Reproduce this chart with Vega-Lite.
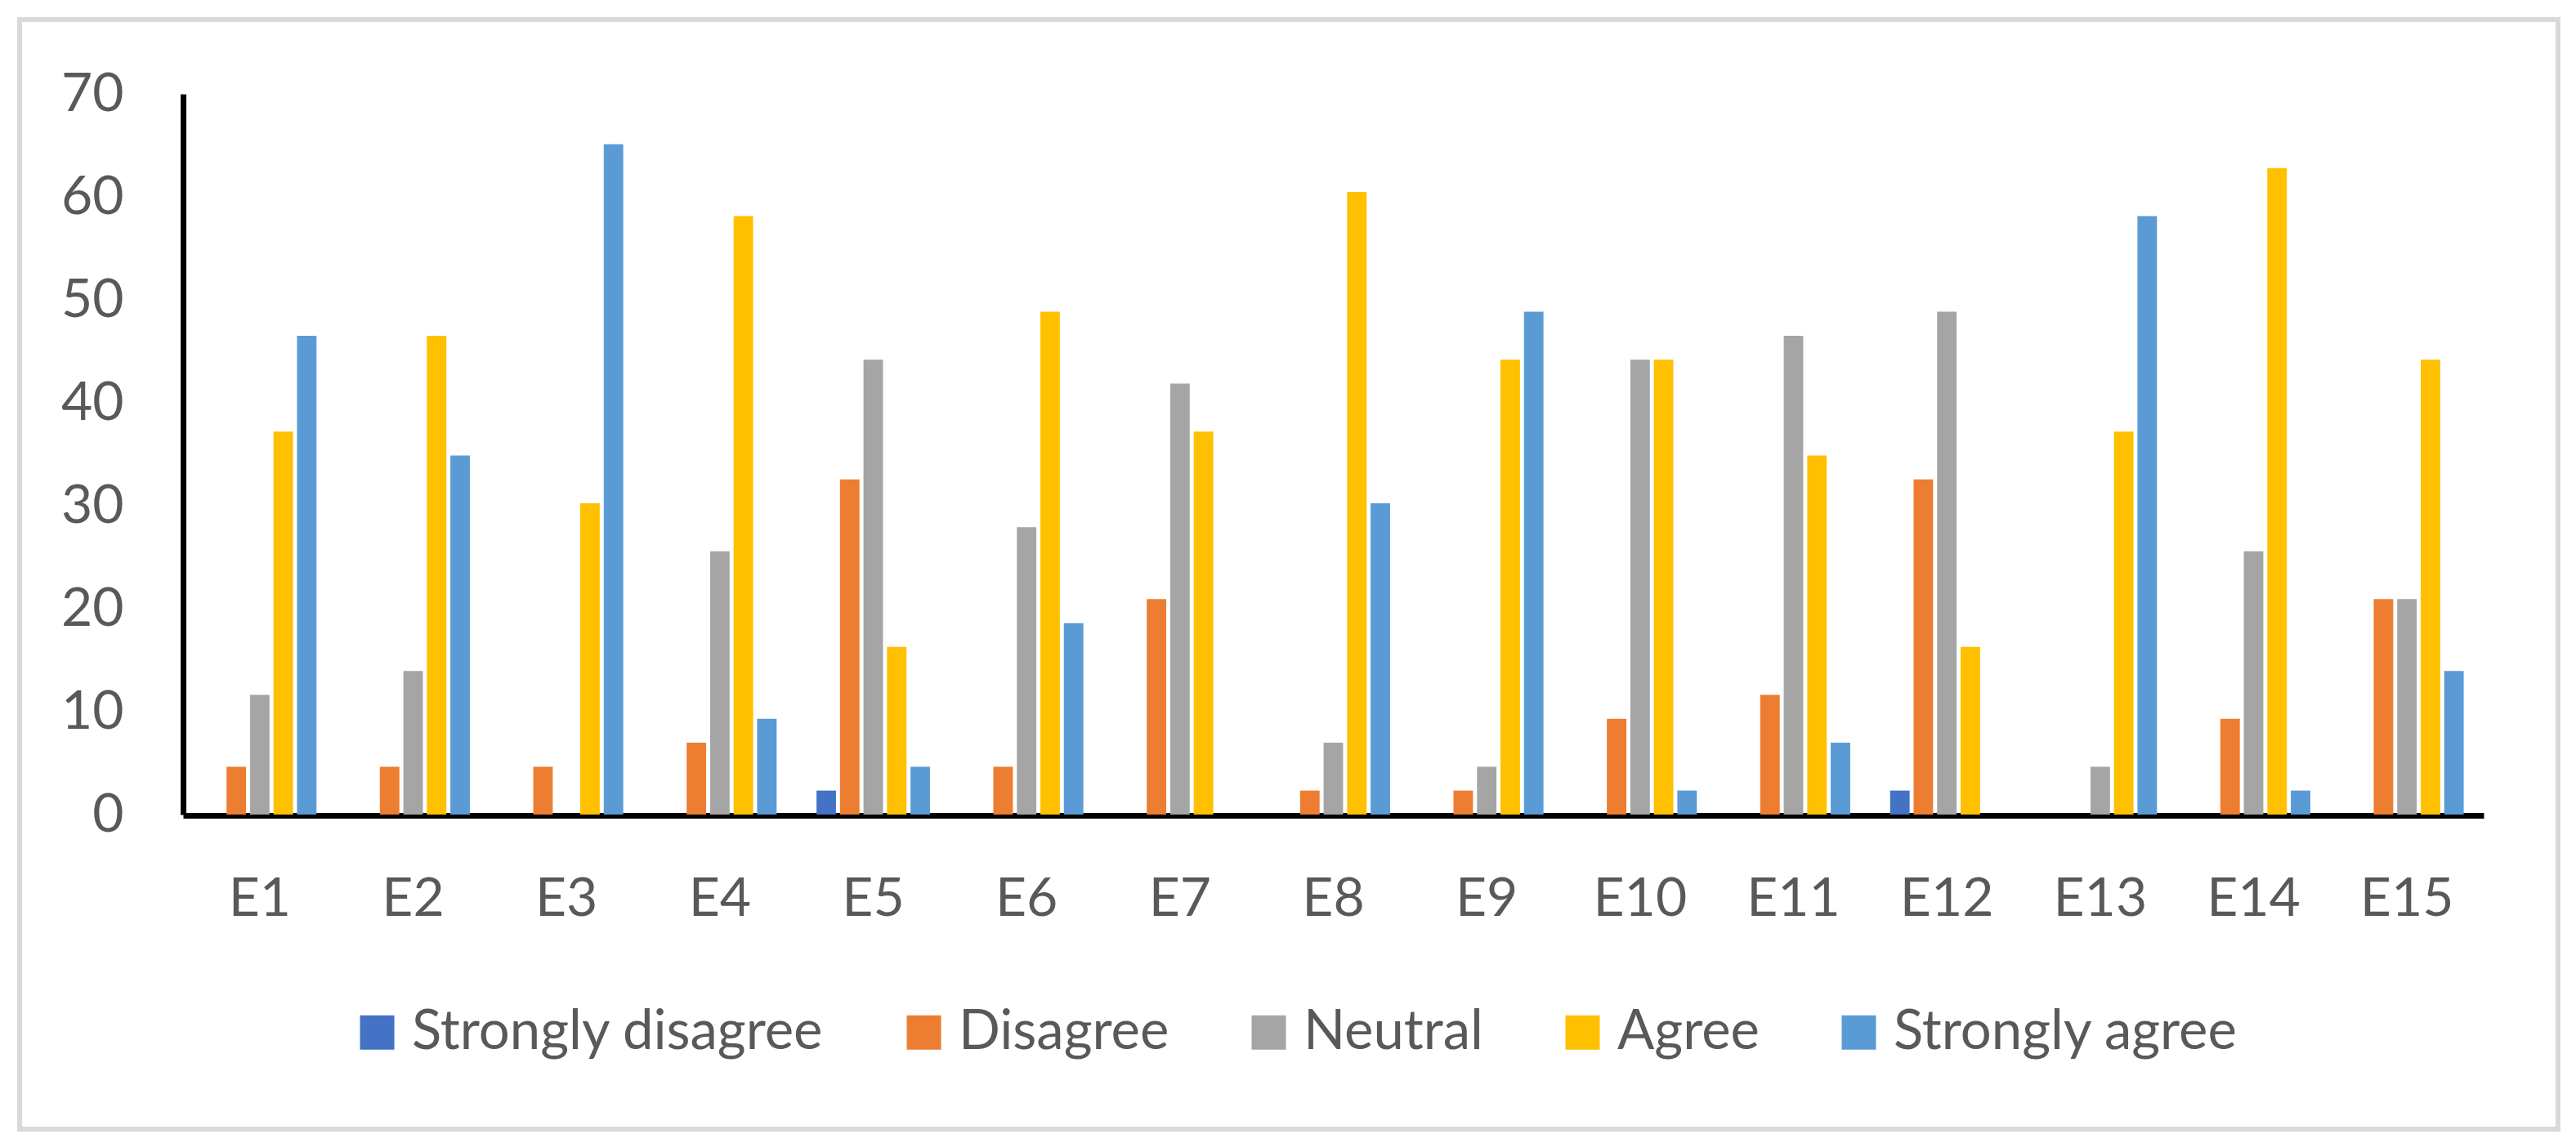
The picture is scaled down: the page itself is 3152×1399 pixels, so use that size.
{
  "$schema": "https://vega.github.io/schema/vega-lite/v6.json",
  "width": 3106,
  "height": 1358,
  "autosize": {"type": "none"},
  "padding": {"left": 24, "top": 24, "right": 22, "bottom": 17},
  "background": "white",
  "config": {"view": {"stroke": "#D9D9D9", "strokeWidth": 6}, "font": "Lato"},
  "data": {"values": [
    {"item": "E1", "response": "Strongly disagree", "pct": 0},
    {"item": "E1", "response": "Disagree", "pct": 4.65},
    {"item": "E1", "response": "Neutral", "pct": 11.63},
    {"item": "E1", "response": "Agree", "pct": 37.21},
    {"item": "E1", "response": "Strongly agree", "pct": 46.51},
    {"item": "E2", "response": "Strongly disagree", "pct": 0},
    {"item": "E2", "response": "Disagree", "pct": 4.65},
    {"item": "E2", "response": "Neutral", "pct": 13.95},
    {"item": "E2", "response": "Agree", "pct": 46.51},
    {"item": "E2", "response": "Strongly agree", "pct": 34.88},
    {"item": "E3", "response": "Strongly disagree", "pct": 0},
    {"item": "E3", "response": "Disagree", "pct": 4.65},
    {"item": "E3", "response": "Neutral", "pct": 0},
    {"item": "E3", "response": "Agree", "pct": 30.23},
    {"item": "E3", "response": "Strongly agree", "pct": 65.12},
    {"item": "E4", "response": "Strongly disagree", "pct": 0},
    {"item": "E4", "response": "Disagree", "pct": 6.98},
    {"item": "E4", "response": "Neutral", "pct": 25.58},
    {"item": "E4", "response": "Agree", "pct": 58.14},
    {"item": "E4", "response": "Strongly agree", "pct": 9.30},
    {"item": "E5", "response": "Strongly disagree", "pct": 2.33},
    {"item": "E5", "response": "Disagree", "pct": 32.56},
    {"item": "E5", "response": "Neutral", "pct": 44.19},
    {"item": "E5", "response": "Agree", "pct": 16.28},
    {"item": "E5", "response": "Strongly agree", "pct": 4.65},
    {"item": "E6", "response": "Strongly disagree", "pct": 0},
    {"item": "E6", "response": "Disagree", "pct": 4.65},
    {"item": "E6", "response": "Neutral", "pct": 27.91},
    {"item": "E6", "response": "Agree", "pct": 48.84},
    {"item": "E6", "response": "Strongly agree", "pct": 18.60},
    {"item": "E7", "response": "Strongly disagree", "pct": 0},
    {"item": "E7", "response": "Disagree", "pct": 20.93},
    {"item": "E7", "response": "Neutral", "pct": 41.86},
    {"item": "E7", "response": "Agree", "pct": 37.21},
    {"item": "E7", "response": "Strongly agree", "pct": 0},
    {"item": "E8", "response": "Strongly disagree", "pct": 0},
    {"item": "E8", "response": "Disagree", "pct": 2.33},
    {"item": "E8", "response": "Neutral", "pct": 6.98},
    {"item": "E8", "response": "Agree", "pct": 60.47},
    {"item": "E8", "response": "Strongly agree", "pct": 30.23},
    {"item": "E9", "response": "Strongly disagree", "pct": 0},
    {"item": "E9", "response": "Disagree", "pct": 2.33},
    {"item": "E9", "response": "Neutral", "pct": 4.65},
    {"item": "E9", "response": "Agree", "pct": 44.19},
    {"item": "E9", "response": "Strongly agree", "pct": 48.84},
    {"item": "E10", "response": "Strongly disagree", "pct": 0},
    {"item": "E10", "response": "Disagree", "pct": 9.30},
    {"item": "E10", "response": "Neutral", "pct": 44.19},
    {"item": "E10", "response": "Agree", "pct": 44.19},
    {"item": "E10", "response": "Strongly agree", "pct": 2.33},
    {"item": "E11", "response": "Strongly disagree", "pct": 0},
    {"item": "E11", "response": "Disagree", "pct": 11.63},
    {"item": "E11", "response": "Neutral", "pct": 46.51},
    {"item": "E11", "response": "Agree", "pct": 34.88},
    {"item": "E11", "response": "Strongly agree", "pct": 6.98},
    {"item": "E12", "response": "Strongly disagree", "pct": 2.33},
    {"item": "E12", "response": "Disagree", "pct": 32.56},
    {"item": "E12", "response": "Neutral", "pct": 48.84},
    {"item": "E12", "response": "Agree", "pct": 16.28},
    {"item": "E12", "response": "Strongly agree", "pct": 0},
    {"item": "E13", "response": "Strongly disagree", "pct": 0},
    {"item": "E13", "response": "Disagree", "pct": 0},
    {"item": "E13", "response": "Neutral", "pct": 4.65},
    {"item": "E13", "response": "Agree", "pct": 37.21},
    {"item": "E13", "response": "Strongly agree", "pct": 58.14},
    {"item": "E14", "response": "Strongly disagree", "pct": 0},
    {"item": "E14", "response": "Disagree", "pct": 9.30},
    {"item": "E14", "response": "Neutral", "pct": 25.58},
    {"item": "E14", "response": "Agree", "pct": 62.79},
    {"item": "E14", "response": "Strongly agree", "pct": 2.33},
    {"item": "E15", "response": "Strongly disagree", "pct": 0},
    {"item": "E15", "response": "Disagree", "pct": 20.93},
    {"item": "E15", "response": "Neutral", "pct": 20.93},
    {"item": "E15", "response": "Agree", "pct": 44.19},
    {"item": "E15", "response": "Strongly agree", "pct": 13.95}
  ]},
  "mark": {"type": "bar"},
  "encoding": {
    "x": {
      "field": "item", "type": "nominal",
      "sort": ["E1","E2","E3","E4","E5","E6","E7","E8","E9","E10","E11","E12","E13","E14","E15"],
      "scale": {"range": [200, 3015], "paddingInner": 0.26, "paddingOuter": 0.13},
      "axis": {"title": null, "orient": "bottom", "offset": -384, "domainColor": "black", "domainWidth": 7, "ticks": false, "tickSize": 0, "grid": false, "labelAngle": 0, "labelFont": "Lato", "labelFontSize": 66, "labelColor": "#595959", "labelPadding": 70}
    },
    "xOffset": {
      "field": "response", "type": "nominal",
      "sort": ["Strongly disagree", "Disagree", "Neutral", "Agree", "Strongly agree"],
      "scale": {"paddingInner": 0.17, "paddingOuter": 0}
    },
    "y": {
      "field": "pct", "type": "quantitative",
      "scale": {"domain": [0, 70], "range": [973, 91], "nice": false},
      "axis": {"title": null, "offset": -200, "values": [0,10,20,30,40,50,60,70], "domainColor": "black", "domainWidth": 7, "ticks": false, "tickSize": 0, "grid": false, "labelFont": "Lato", "labelFontSize": 66, "labelColor": "#595959", "labelPadding": 73}
    },
    "color": {
      "field": "response", "type": "nominal",
      "scale": {"domain": ["Strongly disagree", "Disagree", "Neutral", "Agree", "Strongly agree"], "range": ["#4472C4", "#ED7D31", "#A5A5A5", "#FFC000", "#5B9BD5"]},
      "legend": {"title": null, "orient": "none", "legendX": 404, "legendY": 1206, "direction": "horizontal", "symbolType": "square", "symbolSize": 1764, "symbolStrokeWidth": 0, "labelFont": "Lato", "labelFontSize": 67, "labelColor": "#595959", "labelOffset": 9, "columnPadding": 88, "labelLimit": 2000, "padding": 0}
    }
  }
}
